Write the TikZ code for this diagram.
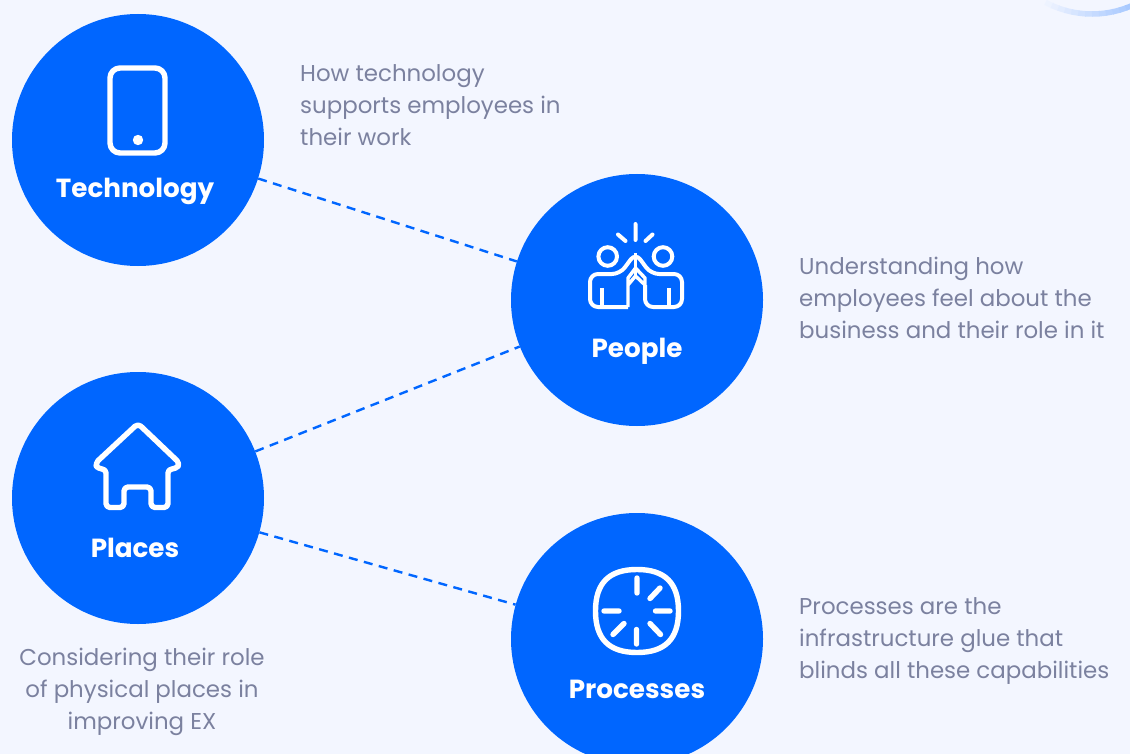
\documentclass[tikz,border=0pt]{standalone}
\usepackage{fontspec}
\setmainfont{Poppins}
\usepackage{xcolor}
\definecolor{pagebg}{HTML}{F3F6FF}
\definecolor{exblue}{HTML}{0066FF}
\definecolor{extext}{HTML}{7B819F}
\definecolor{arcblue}{HTML}{A3C6FF}
\tikzset{
  topic/.style={circle,fill=exblue,minimum size=252pt,inner sep=0pt},
  topiclabel/.style={text=white,font=\fontsize{26.2}{30}\selectfont\bfseries},
  blurb/.style={text=extext,inner sep=0pt,font=\fontsize{22.9}{32}\selectfont},
  link/.style={draw=exblue,line width=2.4pt,dash pattern=on 9pt off 6.5pt},
  icon/.style={draw=white,line width=5.4pt,line join=round,line cap=round},
  thinicon/.style={draw=white,line width=4pt,line join=round,line cap=round},
}
\begin{document}
\begin{tikzpicture}[x=1pt,y=-1pt]
    \clip (0,0) rectangle (1130,754);
    \fill[pagebg] (0,0) rectangle (1130,754);
    % corner arc, fading towards the left
    \foreach \a [evaluate=\a as \m using {max(0,min(100,(\a-8)*1.8))}] in {0,4,...,96} {
        \draw[arcblue!\m!pagebg,line width=5.5pt] (1092,-85) ++({130-\a}:99) arc ({130-\a}:{130-\a-4.5}:99);
    }
    \node[topic](technology) at (138,140) {};
    \node[topic](people) at (637,300) {};
    \node[topic](places) at (138,498) {};
    \node[topic](processes) at (637,639) {};
    \draw[link] (technology) -- (people);
    \draw[link] (places) -- (people);
    \draw[link] (places) -- (processes);
    \node[topiclabel](technologylabel) at (135,191) {Technology};
    \node[topiclabel](peoplelabel) at (637,351) {People};
    \node[topiclabel](placeslabel) at (135,548) {Places};
    \node[topiclabel](processeslabel) at (637,689) {Processes};
    \node[blurb,align=left,anchor=north west](technologytext) at (300,64) {How technology\\supports employees in\\their work};
    \node[blurb,align=left,anchor=north west](peopletext) at (799,257) {Understanding how\\employees feel about the\\business and their role in it};
    \node[blurb,align=center,anchor=north](placestext) at (142,648) {Considering their role\\of physical places in\\improving EX};
    \node[blurb,align=left,anchor=north west](processestext) at (799,597) {Processes are the\\infrastructure glue that\\blinds all these capabilities};
    % phone
    \draw[icon,rounded corners=10pt] (110,68) rectangle (165,153);
    \fill[white] (138,140) circle (5.2);
    % house
    \draw[icon,rounded corners=4pt] (138,423.5) -- (180,463.5) -- (176,469) -- (168,469) -- (168,507.5)
        -- (151,507.5) -- (151,487) -- (124,487) -- (124,507.5) -- (106,507.5) -- (106,469) -- (98,469) -- (95,463.5) -- cycle;
    % people
    \draw[thinicon] (635.5,224) -- (635.5,240) (618,234.5) -- (625.5,241) (652.5,234.5) -- (645.5,241);
    \draw[thinicon] (607.7,256.5) circle (9.3) (663,256.5) circle (9.3);
    \draw[thinicon,line cap=butt,rounded corners=8pt] (628,307) -- (590,307) -- (590,274) -- (620,274) -- (635.5,253)
        -- (651,274) -- (682,274) -- (682,307) -- (645,307) -- (645,285);
    \draw[thinicon,line width=3.4pt,line cap=butt] (628,307) -- (628,278) -- (635.5,268) -- (645,278) -- (645,285) -- (635.5,276) -- (628,285);
    \draw[thinicon,line width=3.4pt,line cap=butt] (635.5,253) -- (635.5,276) (602,288) -- (602,307) (669,288) -- (669,307);
    % processes
    \draw[icon] (637,569.5) .. controls (665,569.5) and (678.5,583) .. (678.5,611)
        .. controls (678.5,639) and (665,652.5) .. (637,652.5)
        .. controls (609,652.5) and (595.5,639) .. (595.5,611)
        .. controls (595.5,583) and (609,569.5) .. (637,569.5) -- cycle;
    \draw[icon] (637,578) -- (637,593) (660,588) -- (650,598.5) (655.5,611) -- (670,611) (650,623.5) -- (660.5,634.5)
        (636.5,629.5) -- (636.5,644) (624,623.5) -- (613,634.5) (604,611) -- (619,611);
\end{tikzpicture}
\end{document}
